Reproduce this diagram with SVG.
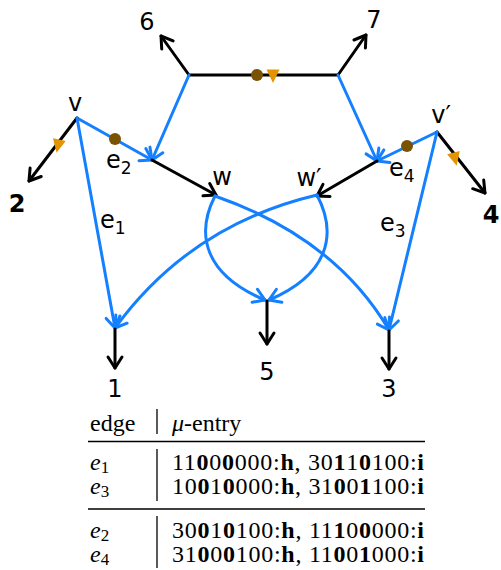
<svg xmlns="http://www.w3.org/2000/svg" width="501" height="570" viewBox="0 0 501 570">
<defs>
<style>
.bk{stroke:#000;stroke-width:3;fill:none;stroke-linecap:round}
.bl{stroke:#1480ff;stroke-width:3;fill:none;stroke-linecap:round}
.lab{font-family:"DejaVu Sans","Liberation Sans",sans-serif;font-size:24px;fill:#000}
.sub{font-size:17px}
.tx{font-family:"Liberation Serif","Times New Roman",serif;font-size:24px;fill:#000}
.b{font-weight:bold}
.dot{fill:#7a5300}
.tri{fill:#e39400}
.rule{stroke:#000;stroke-width:1.3}
</style>
<marker id="ab" markerUnits="userSpaceOnUse" markerWidth="20" markerHeight="20" viewBox="-14 -10 16 20" refX="0" refY="0" orient="auto">
<path d="M-11,-7 L0,0 L-11,7" fill="none" stroke="#000" stroke-width="3" stroke-linecap="round" stroke-linejoin="round"/>
</marker>
<marker id="au" markerUnits="userSpaceOnUse" markerWidth="20" markerHeight="20" viewBox="-14 -10 16 20" refX="0" refY="0" orient="auto">
<path d="M-11,-7 L0,0 L-11,7" fill="none" stroke="#1480ff" stroke-width="3" stroke-linecap="round" stroke-linejoin="round"/>
</marker>
<path id="tr" d="M-6.5,-6.5 L6.5,-6.5 L0,7 Z"/>
</defs>

<g id="connectors">
<line class="bk" x1="189" y1="75" x2="338" y2="75"/>
<line class="bk" x1="189" y1="75" x2="161" y2="36" marker-end="url(#ab)"/>
<line class="bk" x1="338" y1="75" x2="366" y2="35" marker-end="url(#ab)"/>
<line class="bl" x1="189" y1="75" x2="152" y2="160" marker-end="url(#au)"/>
<line class="bl" x1="338" y1="75" x2="377" y2="161" marker-end="url(#au)"/>
<line class="bl" x1="77" y1="118" x2="152" y2="160" marker-end="url(#au)"/>
<line class="bl" x1="437" y1="132" x2="377" y2="161" marker-end="url(#au)"/>
<line class="bk" x1="152" y1="160" x2="216" y2="195" marker-end="url(#ab)"/>
<line class="bk" x1="377" y1="161" x2="317" y2="196" marker-end="url(#ab)"/>
<line class="bk" x1="77" y1="118" x2="29" y2="181" marker-end="url(#ab)"/>
<line class="bk" x1="437" y1="132" x2="485" y2="193" marker-end="url(#ab)"/>
<line class="bl" x1="77" y1="118" x2="115" y2="328" marker-end="url(#au)"/>
<line class="bl" x1="437" y1="132" x2="389" y2="330" marker-end="url(#au)"/>
<path class="bl" d="M215,196 Q335,238 389,330" marker-end="url(#au)"/>
<path class="bl" d="M317,195 Q190,225 115,328" marker-end="url(#au)"/>
<path class="bl" d="M215,196 C195,235 205,275 265,300" marker-end="url(#au)"/>
<path class="bl" d="M317,195 C338,235 328,275 269,300" marker-end="url(#au)"/>
<line class="bk" x1="115" y1="329" x2="115" y2="368" marker-end="url(#ab)"/>
<line class="bk" x1="389" y1="331" x2="389" y2="369" marker-end="url(#ab)"/>
<line class="bk" x1="267" y1="301" x2="267" y2="344" marker-end="url(#ab)"/>
<circle class="dot" cx="257" cy="75" r="6"/>
<use href="#tr" class="tri" transform="translate(273,76)"/>
<circle class="dot" cx="115" cy="139" r="6"/>
<use href="#tr" class="tri" transform="translate(58,146) rotate(12)"/>
<circle class="dot" cx="407" cy="146" r="6"/>
<use href="#tr" class="tri" transform="translate(455,159) rotate(-14)"/>
</g>

<g id="node-v"><text class="lab" x="75" y="111" text-anchor="middle">v</text></g>
<g id="node-vp"><text class="lab" x="441" y="123" text-anchor="middle">v′</text></g>
<g id="node-w"><text class="lab" x="222" y="185" text-anchor="middle">w</text></g>
<g id="node-wp"><text class="lab" x="309" y="186" text-anchor="middle">w′</text></g>
<g id="node-1"><text class="lab" x="115" y="397" text-anchor="middle">1</text></g>
<g id="node-2"><text class="lab b" x="17" y="212" text-anchor="middle">2</text></g>
<g id="node-3"><text class="lab" x="389" y="397" text-anchor="middle">3</text></g>
<g id="node-4"><text class="lab b" x="491" y="223" text-anchor="middle">4</text></g>
<g id="node-5"><text class="lab" x="267" y="380" text-anchor="middle">5</text></g>
<g id="node-6"><text class="lab" x="147" y="30" text-anchor="middle">6</text></g>
<g id="node-7"><text class="lab" x="374" y="28" text-anchor="middle">7</text></g>
<g id="label-e1"><text class="lab" x="100" y="228">e<tspan class="sub" dy="6">1</tspan></text></g>
<g id="label-e2"><text class="lab" x="106" y="168">e<tspan class="sub" dy="6">2</tspan></text></g>
<g id="label-e3"><text class="lab" x="380" y="231">e<tspan class="sub" dy="6">3</tspan></text></g>
<g id="label-e4"><text class="lab" x="389" y="176">e<tspan class="sub" dy="6">4</tspan></text></g>

<g id="table">
<text class="tx" x="90" y="431">edge</text>
<text class="tx" x="172" y="431"><tspan font-style="italic">μ</tspan>-entry</text>
<line class="rule" x1="157" y1="409" x2="157" y2="434"/>
<line class="rule" x1="88" y1="441.5" x2="425" y2="441.5"/>
<line class="rule" x1="157" y1="449" x2="157" y2="501"/>
<line class="rule" x1="88" y1="509" x2="425" y2="509"/>
<line class="rule" x1="157" y1="516" x2="157" y2="568"/>
<text class="tx" x="90" y="470" font-style="italic">e<tspan font-size="17" dy="3" font-style="normal">1</tspan></text>
<text class="tx" x="90" y="494" font-style="italic">e<tspan font-size="17" dy="3" font-style="normal">3</tspan></text>
<text class="tx" x="90" y="538" font-style="italic">e<tspan font-size="17" dy="3" font-style="normal">2</tspan></text>
<text class="tx" x="90" y="562" font-style="italic">e<tspan font-size="17" dy="3" font-style="normal">4</tspan></text>
<text class="tx" x="172" y="470" textLength="252" lengthAdjust="spacing">11<tspan class="b">0</tspan>0<tspan class="b">0</tspan>000:<tspan class="b">h</tspan>, 30<tspan class="b">1</tspan>1<tspan class="b">0</tspan>100:<tspan class="b">i</tspan></text>
<text class="tx" x="172" y="494" textLength="252" lengthAdjust="spacing">10<tspan class="b">0</tspan>1<tspan class="b">0</tspan>000:<tspan class="b">h</tspan>, 31<tspan class="b">0</tspan>0<tspan class="b">1</tspan>100:<tspan class="b">i</tspan></text>
<text class="tx" x="172" y="538" textLength="252" lengthAdjust="spacing">30<tspan class="b">0</tspan>1<tspan class="b">0</tspan>100:<tspan class="b">h</tspan>, 11<tspan class="b">1</tspan>0<tspan class="b">0</tspan>000:<tspan class="b">i</tspan></text>
<text class="tx" x="172" y="562" textLength="252" lengthAdjust="spacing">31<tspan class="b">0</tspan>0<tspan class="b">0</tspan>100:<tspan class="b">h</tspan>, 11<tspan class="b">0</tspan>0<tspan class="b">1</tspan>000:<tspan class="b">i</tspan></text>
</g>
</svg>
